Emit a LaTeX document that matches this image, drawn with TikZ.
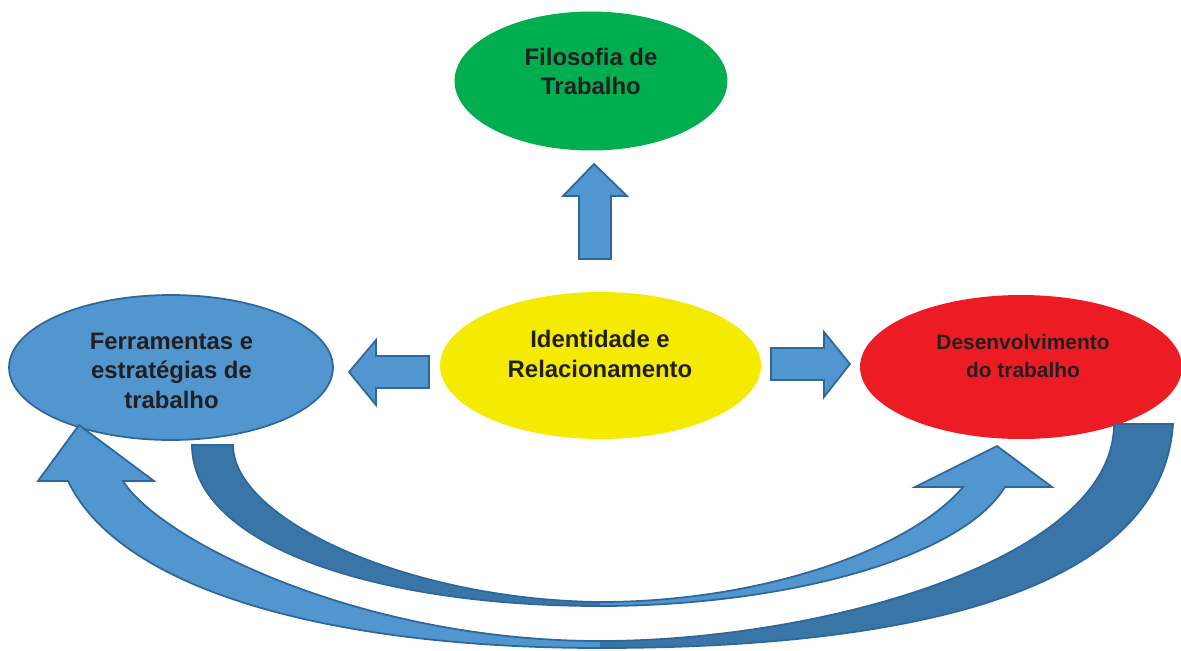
\documentclass[tikz,border=0pt]{standalone}
\usepackage{fontspec}
\setmainfont{Liberation Sans}
\usepackage{tikz}
\usetikzlibrary{shapes.geometric, positioning}

\definecolor{sheetgreen}{RGB}{0,173,79}
\definecolor{sheetyellow}{RGB}{245,235,0}
\definecolor{sheetred}{RGB}{237,28,36}
\definecolor{sheetblue}{RGB}{82,150,208}
\definecolor{bandblue}{RGB}{57,118,167}
\definecolor{edgeblue}{RGB}{46,104,155}
\definecolor{inkgray}{RGB}{35,31,32}

\begin{document}
\begin{tikzpicture}[x=0.02cm, y=-0.02cm,
    bubble/.style={ellipse, inner sep=0pt},
    caption/.style={align=center, text=inkgray, font=\bfseries\fontsize{13.6pt}{16.8pt}\selectfont},
    smallcaption/.style={align=center, text=inkgray, font=\bfseries\fontsize{11.9pt}{15.4pt}\selectfont},
    blockarrow/.style={fill=sheetblue, draw=edgeblue, line width=1pt, line join=miter},
    bandedge/.style={draw=edgeblue, line width=1pt, line join=miter}]
    \useasboundingbox (0,0) rectangle (1181,650);

    \node[bubble, fill=sheetgreen, minimum width=5.46cm, minimum height=2.78cm] (filo) at (591,81) {};
    \node[bubble, fill=sheetyellow, minimum width=6.42cm, minimum height=2.94cm] (ident) at (600.5,365.5) {};
    \node[bubble, fill=sheetblue, draw=edgeblue, line width=1pt, minimum width=6.48cm, minimum height=2.9cm] (ferr) at (171,367.5) {};
    \node[bubble, fill=sheetred, minimum width=6.44cm, minimum height=2.88cm] (desenv) at (1021,367) {};

    \node[caption] (filoText) at (591,71.5) {Filosofia de\\Trabalho};
    \node[caption] (identText) at (600,354) {Identidade e\\Relacionamento};
    \node[caption] (ferrText) at (171.5,370.5) {Ferramentas e\\estratégias de\\trabalho};
    \node[smallcaption] (desenvText) at (1023,356) {Desenvolvimento\\do trabalho};

    \draw[blockarrow] (579,259) -- (579,196) -- (563,196) -- (594,164) -- (627,196) -- (611,196) -- (611,259) -- cycle;
    \draw[blockarrow] (429,356) -- (376,356) -- (376,340) -- (349,372) -- (376,405) -- (376,388) -- (429,388) -- cycle;
    \draw[blockarrow] (771,348) -- (824,348) -- (824,332) -- (850,364) -- (824,397) -- (824,380) -- (771,380) -- cycle;

    % inner sweep
    \fill[bandblue] (192,445) .. controls (192,545) and (375,606) .. (600,606)
        -- (600,602) .. controls (410,600) and (233,520) .. (233,445) -- cycle;
    \fill[sheetblue] (600,602) .. controls (760,602) and (910,550) .. (963,487)
        -- (915,487) -- (997,446) -- (1052,487) -- (1005,487)
        .. controls (960,560) and (780,606) .. (600,606) -- cycle;
    \draw[bandedge] (192,445) .. controls (192,545) and (375,606) .. (600,606)
        .. controls (780,606) and (960,560) .. (1005,487)
        -- (1052,487) -- (997,446) -- (915,487) -- (963,487)
        .. controls (910,550) and (760,602) .. (600,602)
        .. controls (410,600) and (233,520) .. (233,445) -- cycle;

    % outer sweep
    \fill[sheetblue] (600,641) .. controls (360,641) and (160,540) .. (123,481)
        -- (154,481) -- (79,425) -- (38,481) -- (68,481)
        .. controls (120,590) and (330,648) .. (600,648) -- cycle;
    \fill[bandblue] (600,648) .. controls (820,648) and (1160,620) .. (1173,424)
        -- (1114,424) .. controls (1114,560) and (820,641) .. (600,641) -- cycle;
    \draw[bandedge] (600,641) .. controls (360,641) and (160,540) .. (123,481)
        -- (154,481) -- (79,425) -- (38,481) -- (68,481)
        .. controls (120,590) and (330,648) .. (600,648)
        .. controls (820,648) and (1160,620) .. (1173,424)
        -- (1114,424) .. controls (1114,560) and (820,641) .. (600,641) -- cycle;
\end{tikzpicture}
\end{document}
